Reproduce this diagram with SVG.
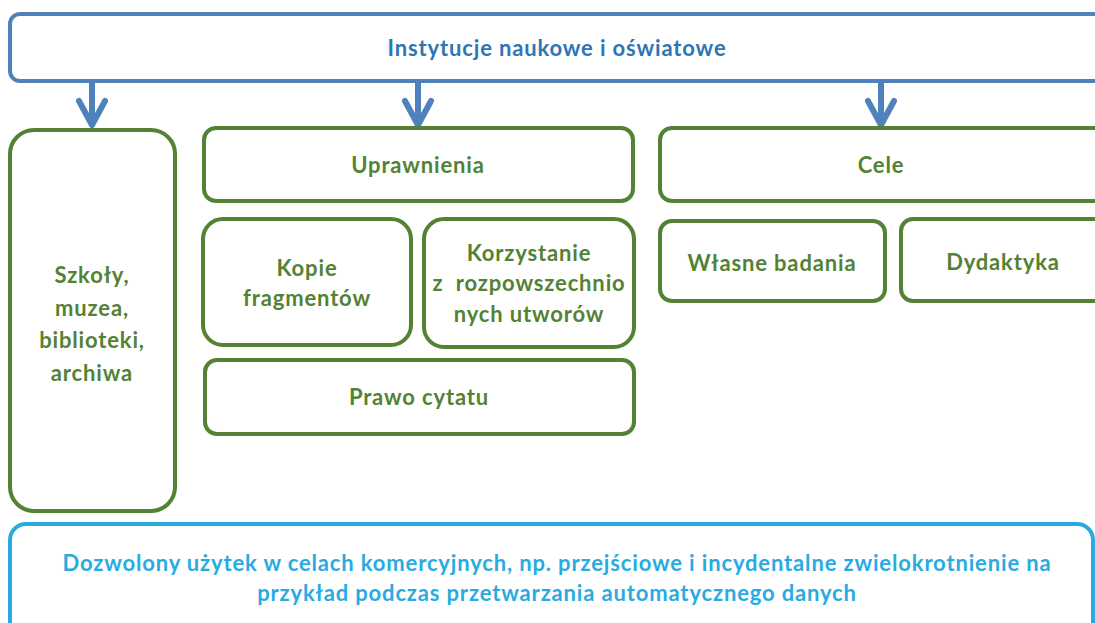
<svg xmlns="http://www.w3.org/2000/svg" width="1095" height="623" viewBox="0 0 1095 623">
<style>
.blue{fill:#fff;stroke:#4F81BD;stroke-width:4}
.green{fill:#fff;stroke:#548235;stroke-width:4}
.lblue{fill:#fff;stroke:#29ABE2;stroke-width:4}
text{font-family:Lato,"Liberation Sans",sans-serif;font-weight:bold;text-anchor:middle;font-size:22px;letter-spacing:0.85px}
.tb{fill:#2E75B6}
.tg{fill:#548235}
.tl{fill:#29ABE2}
.arr{stroke:#4F81BD;stroke-width:6;fill:none;stroke-linecap:round;stroke-linejoin:round}
</style>
<rect width="1095" height="623" fill="#fff"/>
<g id="top">
<rect class="blue" x="10" y="14" width="1110" height="67" rx="10"/>
<text class="tb" x="557" y="56">Instytucje naukowe i oświatowe</text>
</g>
<g id="connectors">
<path class="arr" d="M92 83V124M79 101L92 125L105 101"/>
<path class="arr" d="M418 83V124M405 101L418 125L431 101"/>
<path class="arr" d="M881 83V124M868 101L881 125L894 101"/>
</g>
<g id="szkoly">
<rect class="green" x="10" y="130" width="165" height="381" rx="24"/>
<text class="tg" x="92" y="283">Szkoły,</text>
<text class="tg" x="92" y="316">muzea,</text>
<text class="tg" x="92" y="348">biblioteki,</text>
<text class="tg" x="92" y="381">archiwa</text>
</g>
<g id="uprawnienia">
<rect class="green" x="204" y="128" width="429" height="73" rx="12"/>
<text class="tg" x="418" y="173">Uprawnienia</text>
</g>
<g id="kopie">
<rect class="green" x="203" y="219" width="208" height="126" rx="20"/>
<text class="tg" x="307" y="276">Kopie</text>
<text class="tg" x="307" y="306">fragmentów</text>
</g>
<g id="korzystanie">
<rect class="green" x="424" y="219" width="210" height="128" rx="20"/>
<text class="tg" x="529" y="261">Korzystanie</text>
<text class="tg" x="529" y="291" xml:space="preserve">z  rozpowszechnio</text>
<text class="tg" x="529" y="322">nych utworów</text>
</g>
<g id="prawo">
<rect class="green" x="205" y="360" width="429" height="74" rx="12"/>
<text class="tg" x="419" y="405">Prawo cytatu</text>
</g>
<g id="cele">
<rect class="green" x="660" y="128" width="460" height="73" rx="12"/>
<text class="tg" x="881" y="173">Cele</text>
</g>
<g id="wlasne">
<rect class="green" x="660" y="221" width="225" height="80" rx="12"/>
<text class="tg" x="772" y="271">Własne badania</text>
</g>
<g id="dydaktyka">
<rect class="green" x="901" y="219" width="220" height="82" rx="12"/>
<text class="tg" x="1003" y="270">Dydaktyka</text>
</g>
<g id="dozwolony">
<rect class="lblue" x="10" y="524" width="1083" height="120" rx="16"/>
<text class="tl" x="557" y="571">Dozwolony użytek w celach komercyjnych, np. przejściowe i incydentalne zwielokrotnienie na</text>
<text class="tl" x="557" y="601">przykład podczas przetwarzania automatycznego danych</text>
</g>
</svg>
